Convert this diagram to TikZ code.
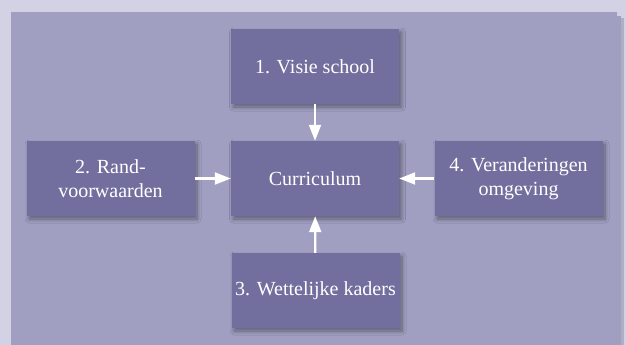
\documentclass[tikz,border=0pt]{standalone}
\usepackage{fontspec}
\setmainfont{Liberation Serif}
\usetikzlibrary{arrows.meta,shadows.blur}
\definecolor{r211g209b228}{RGB}{211,209,228}%
\definecolor{r160g159b194}{RGB}{160,159,194}%
\definecolor{r114g111b158}{RGB}{114,111,158}%
\definecolor{r70g66b120}{RGB}{70,66,120}%
\tikzset{
  vak/.style={fill=r114g111b158, text=white, minimum width=168pt, minimum height=75pt,
    inner sep=0pt, align=center, font=\fontsize{20}{24}\selectfont,
    blur shadow={shadow xshift=2.5pt, shadow yshift=-3pt, shadow blur steps=8,
      shadow blur radius=4pt, shadow opacity=40, shadow scale=1}},
  pijl/.style={draw=white, line width=2.2pt, -{Triangle[length=16pt,width=12pt]}}
}
\begin{document}
\begin{tikzpicture}[x=1pt,y=-1pt]
                        \clip (0,0) rectangle (626,345);
                        % Drawing background and panel
                        \fill [r211g209b228] (0,0) rectangle (626,345);%
                        \fill [r70g66b120, opacity=0.35] (617,16) rectangle (621,360);%
                        \fill [r70g66b120, opacity=0.25] (621,18) rectangle (624,360);%
                        \fill [r160g159b194] (11,12) rectangle (617,360);%

                        % Drawing boxes
                        \node [vak] (visie)  at (315,66.5)  {1. Visie school};%
                        \node [vak] (curric) at (315,178.5) {Curriculum};%
                        \node [vak] (rand)   at (110.5,178.5) {2. Rand-\\voorwaarden};%
                        \node [vak] (omgev)  at (518.5,178.5) {4. Veranderingen\\omgeving};%
                        \node [vak] (wet)    at (315.5,290.5) {3. Wettelijke kaders};%

                        % Drawing arrows
                        \draw [pijl] (visie) -- (curric);%
                        \draw [pijl] (wet) -- (curric);%
                        \draw [pijl] (rand) -- (curric);%
                        \draw [pijl] (omgev) -- (curric);%
\end{tikzpicture}
\end{document}
